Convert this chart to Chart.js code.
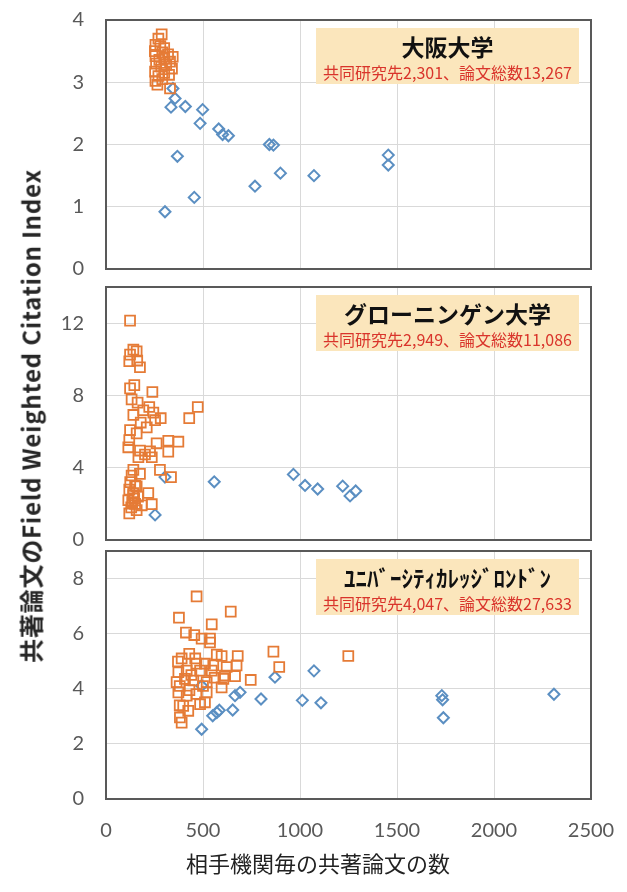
<!DOCTYPE html>
<html>
<head>
<meta charset="utf-8">
<script src="https://cdn.jsdelivr.net/npm/chart.js@4.4.1/dist/chart.umd.min.js"></script>
<style>
body{margin:0;background:#fff;}
#wrap{position:relative;width:627px;height:892px;overflow:hidden;}
#wrap canvas{position:absolute;left:0;}
#ytitle{position:absolute;left:30px;top:416px;transform:translate(-50%,-50%) rotate(-90deg);
  white-space:nowrap;font:bold 24px "Noto Sans CJK JP",sans-serif;color:#262626;letter-spacing:0.8px;}
#xtitle{position:absolute;left:318px;top:862px;transform:translate(-50%,-50%);
  white-space:nowrap;font:22px "Noto Sans CJK JP",sans-serif;color:#222;}
</style>
</head>
<body>
<div id="wrap">
  <canvas id="c1" width="627" height="300"></canvas>
  <canvas id="c2" width="627" height="300"></canvas>
  <canvas id="c3" width="627" height="360"></canvas>
  <div id="ytitle">共著論文のField Weighted Citation Index</div>
  <div id="xtitle">相手機関毎の共著論文の数</div>
</div>
<script>
// x ticks shared by all three panels
const xTicks = [0, 500, 1000, 1500, 2000, 2500];

// 大阪大学
const osakaSqX = [287,270,255,280,300,252,290,320,255,344,300,275,330,258,310,285,340,253,300,325,270,290,255,265,330];
const osakaSqY = [3.77,3.70,3.60,3.58,3.55,3.50,3.48,3.45,3.42,3.41,3.38,3.36,3.33,3.30,3.28,3.25,3.22,3.17,3.15,3.12,3.10,3.05,3.02,2.96,2.90];
const osakaDiaX = [345,356,335,409,498,485,581,601,631,842,863,368,899,1072,768,455,304,1455,1455];
const osakaDiaY = [2.90,2.74,2.60,2.61,2.56,2.34,2.25,2.16,2.14,2.00,1.99,1.81,1.54,1.50,1.33,1.15,0.92,1.83,1.67];
const osakaTicks = [0, 1, 2, 3, 4];

// グローニンゲン大学
const groSqX = [124,141,158,124,161,175,120,124,146,239,132,163,473,429,223,192,244,282,141,253,210,179,124,158,120,115,167,201,175,261,321,373,321,236,227,278,335,141,132,175,120,158,115,141,218,236,120,184,158,145,150,130,140,125,150,135,165];
const groSqY = [12.14,10.53,10.44,10.26,9.93,9.56,9.89,8.39,8.57,8.19,7.78,7.60,7.36,6.74,7.36,7.18,7.05,6.74,6.92,6.63,6.23,6.5,6.08,5.9,5.53,5.13,4.58,4.73,4.95,5.35,5.49,5.44,4.89,4.58,4.91,3.88,3.48,3.88,3.57,3.66,2.79,2.97,2.2,2.47,2.6,1.98,1.47,1.92,1.65,2.3,2.0,1.8,2.6,3.2,3.0,2.1,2.4];
const groDiaX = [558,966,1026,1091,1220,1258,1287,253,304];
const groDiaY = [3.22,3.63,3.02,2.82,2.98,2.44,2.71,1.39,3.48];
const groTicks = [0, 4, 8, 12];

// ユニバーシティカレッジロンドン
const uclSqX = [467,376,643,545,412,455,493,536,536,429,571,596,679,371,466,510,553,622,673,373,416,485,545,613,665,364,407,450,519,605,596,373,416,466,519,398,485,381,390,424,510,863,893,746,1249,380,440,500,430,560,390,460,380];
const uclSqY = [7.35,6.58,6.80,6.34,6.04,5.95,5.82,5.68,5.82,5.27,5.24,5.19,5.19,4.99,4.91,4.91,4.85,4.79,4.85,4.60,4.66,4.66,4.66,4.48,4.46,4.24,4.36,4.30,4.24,4.36,4.05,3.87,3.75,3.81,3.87,3.38,3.44,2.96,2.77,3.20,3.51,5.35,4.79,4.32,5.19,4.1,4.5,4.1,3.95,4.4,5.1,5.1,3.4];
const uclDiaX = [493,550,571,584,653,665,691,799,871,1012,1072,1108,493,1731,1735,1739,2309];
const uclDiaY = [2.53,3.02,3.14,3.22,3.23,3.75,3.87,3.63,4.42,3.58,4.65,3.49,4.11,3.75,3.60,2.95,3.80];
const uclTicks = [0, 2, 4, 6, 8];

const orange = '#E57B36';
const blue = '#5B8FC2';
const tickFont = {family: 'Lato', size: 20};

const frameBox = {
  id: 'frameBox',
  afterDraw(chart, args, opts) {
    const ctx = chart.ctx, a = chart.chartArea;
    ctx.save();
    ctx.strokeStyle = '#595959';
    ctx.lineWidth = 2;
    ctx.strokeRect(a.left, a.top, a.right - a.left, a.bottom - a.top);
    const w = 263, h = 56;
    const x = a.right - 12 - w, y = a.top + 8;
    ctx.fillStyle = '#FBE6BC';
    ctx.fillRect(x, y, w, h);
    ctx.textAlign = 'center';
    ctx.textBaseline = 'middle';
    ctx.fillStyle = '#111';
    ctx.font = 'bold 23px "Noto Sans CJK JP"';
    ctx.fillText(opts.title, x + w / 2, y + 19);
    ctx.fillStyle = '#D9342B';
    ctx.font = '16px "Noto Sans CJK JP"';
    ctx.fillText(opts.sub, x + w / 2, y + 45);
    ctx.restore();
  }
};

function pts(xs, ys) {
  return xs.map((x, i) => ({x: x, y: ys[i]}));
}

// frame: wanted page box of the plot area
const frame = {left: 106, right: 591};

function makeChart(id, sqX, sqY, diaX, diaY, yTicks, yMax, box, top, bottom, showX) {
  const canvas = document.getElementById(id);
  const chart = new Chart(canvas, {
    type: 'scatter',
    data: {
      datasets: [
        {data: pts(sqX, sqY), pointStyle: 'rect', pointRadius: 7, borderWidth: 1.8,
         borderColor: orange, backgroundColor: 'rgba(0,0,0,0)'},
        {data: pts(diaX, diaY), pointStyle: 'rectRot', pointRadius: 5.5, borderWidth: 2,
         borderColor: blue, backgroundColor: 'rgba(0,0,0,0)'}
      ]
    },
    options: {
      responsive: false,
      maintainAspectRatio: false,
      animation: false,
      layout: {padding: {top: 15, bottom: 15, left: 0, right: 10}, autoPadding: false},
      plugins: {legend: {display: false}, tooltip: {enabled: false}, frameBox: box},
      scales: {
        x: {
          min: xTicks[0], max: xTicks[xTicks.length - 1],
          afterBuildTicks: s => { s.ticks = xTicks.map(v => ({value: v})); },
          grid: {color: '#D9D9D9', drawTicks: false},
          border: {display: false},
          ticks: {display: showX, padding: 20, color: '#595959', font: tickFont, callback: v => v},
          afterFit: s => { s.height = showX ? 50 : 0; }
        },
        y: {
          min: 0, max: yMax,
          afterBuildTicks: s => { s.ticks = yTicks.map(v => ({value: v})); },
          grid: {color: '#D9D9D9', drawTicks: false},
          border: {display: false},
          ticks: {padding: 22, color: '#595959', font: tickFont},
          afterFit: s => { s.width = 106; }
        }
      }
    },
    plugins: [frameBox]
  });
  // line the plot frame up with the wanted spot on the page
  const a = chart.chartArea;
  const w = canvas.width + (frame.right - frame.left) - (a.right - a.left);
  const h = canvas.height + (bottom - top) - (a.bottom - a.top);
  canvas.style.top = (top - a.top) + 'px';
  canvas.style.left = (frame.left - a.left) + 'px';
  canvas.style.width = w + 'px';
  canvas.style.height = h + 'px';
  chart.resize(w, h);
  return chart;
}

makeChart('c1', osakaSqX, osakaSqY, osakaDiaX, osakaDiaY, osakaTicks, 4,
  {title: '大阪大学', sub: '共同研究先2,301、論文総数13,267'}, 20, 269, false);
makeChart('c2', groSqX, groSqY, groDiaX, groDiaY, groTicks, 14,
  {title: 'グローニンゲン大学', sub: '共同研究先2,949、論文総数11,086'}, 287, 540, false);
makeChart('c3', uclSqX, uclSqY, uclDiaX, uclDiaY, uclTicks, 9,
  {title: 'ﾕﾆﾊﾞｰｼﾃｨｶﾚｯｼﾞﾛﾝﾄﾞﾝ', sub: '共同研究先4,047、論文総数27,633'}, 551, 799, true);
</script>
</body>
</html>
